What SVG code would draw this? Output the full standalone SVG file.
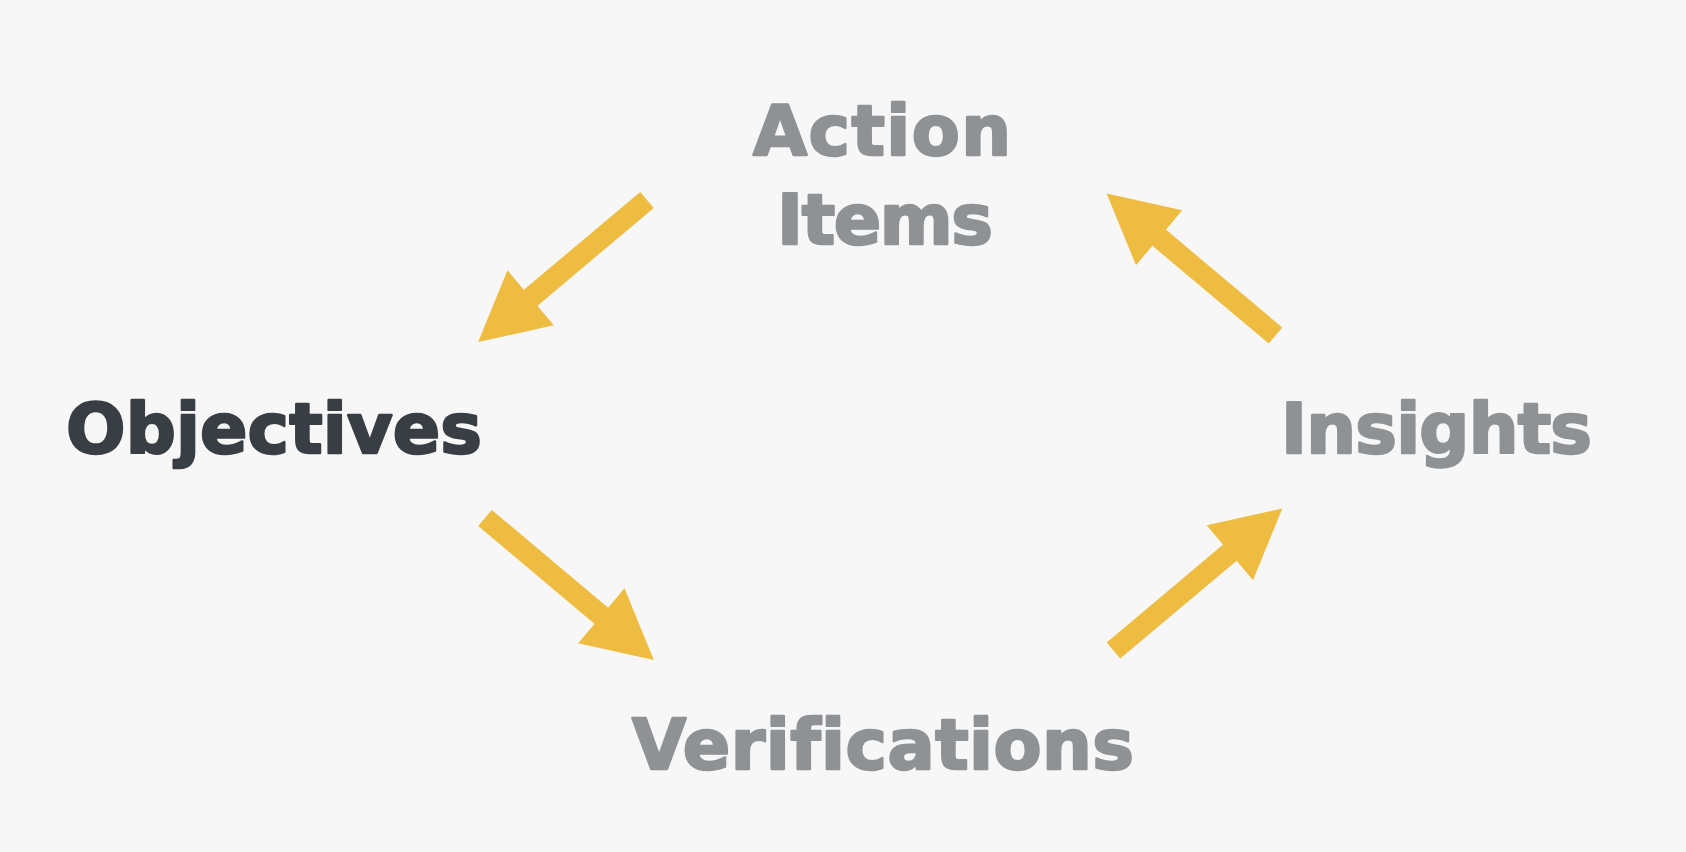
<svg xmlns="http://www.w3.org/2000/svg" width="1686" height="852" viewBox="0 0 1686 852">
  <style>
    .lbl { font-family: "DejaVu Sans", "Liberation Sans", sans-serif; font-weight: bold; font-size: 70px; text-anchor: middle; font-variant-ligatures: none; font-feature-settings: "liga" 0; stroke-width: 2.4; stroke-linejoin: round; }
    .muted { fill: #8f9295; stroke: #8f9295; }
    .strong { fill: #383e43; stroke: #383e43; }
    .arrow { stroke: #eebc41; stroke-width: 21; fill: none; marker-end: url(#head); }
  </style>
  <defs>
    <marker id="head" markerUnits="userSpaceOnUse" markerWidth="80" markerHeight="80" refX="2" refY="0" orient="auto" overflow="visible">
      <path d="M0,-36 L68.5,0 L0,36 Z" fill="#eebc41"/>
    </marker>
  </defs>
  <rect x="0" y="0" width="1686" height="852" fill="#f7f7f7"/>
  <g id="connectors">
    <line class="arrow" x1="647" y1="200" x2="529.1" y2="299.1"/>
    <line class="arrow" x1="485" y1="518" x2="602.9" y2="617.1"/>
    <line class="arrow" x1="1113.5" y1="650.5" x2="1231.4" y2="551.4"/>
    <line class="arrow" x1="1275.5" y1="335.5" x2="1157.6" y2="236.4"/>
  </g>
  <g id="node-action-items">
    <text class="lbl muted"><tspan x="882" y="155" textLength="258" lengthAdjust="spacing">Action</tspan><tspan x="885" y="243.5" textLength="216" lengthAdjust="spacing">Items</tspan></text>
  </g>
  <g id="node-objectives">
    <text class="lbl strong" x="274" y="453" textLength="416" lengthAdjust="spacing">Objectives</text>
  </g>
  <g id="node-insights">
    <text class="lbl muted" x="1436.5" y="453" textLength="311" lengthAdjust="spacing">Insights</text>
  </g>
  <g id="node-verifications">
    <text class="lbl muted" x="883" y="769" textLength="502" lengthAdjust="spacing">Verifications</text>
  </g>
</svg>
